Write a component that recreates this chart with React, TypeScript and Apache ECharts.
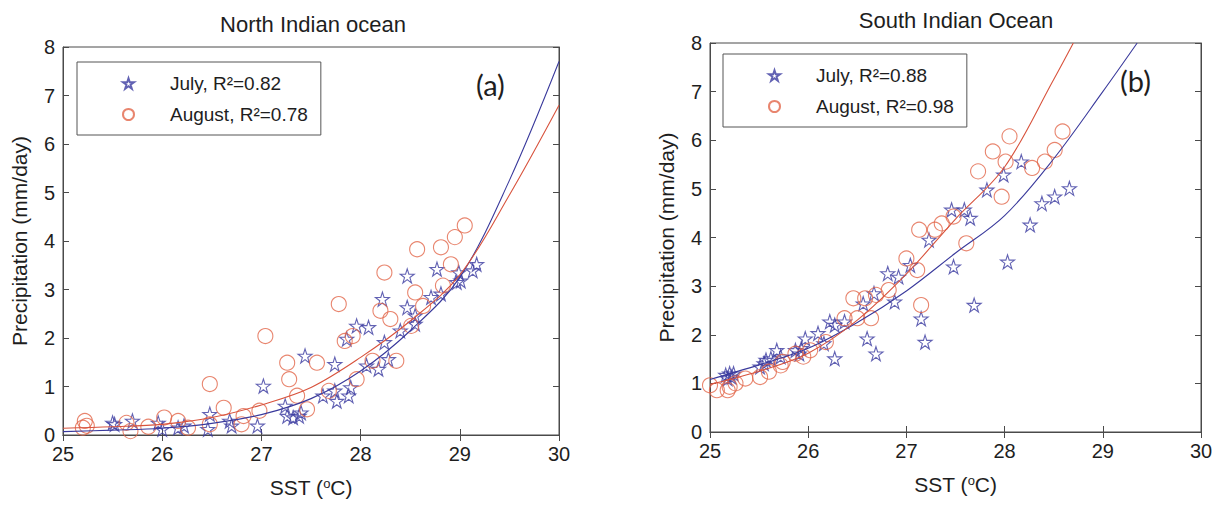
import React, { useEffect, useRef } from "react";
import * as echarts from "echarts";

// ---------- data ----------
const xTicks = [25, 26, 27, 28, 29, 30];
const yTicks = [0, 1, 2, 3, 4, 5, 6, 7, 8];

const northTitle = "North Indian ocean";
const southTitle = "South Indian Ocean";
const northJulyName = "July, R²=0.82";
const northAugName = "August, R²=0.78";
const southJulyName = "July, R²=0.88";
const southAugName = "August, R²=0.98";

// North Indian ocean, July  [SST, precipitation]
const northJuly = [
  [25.5, 0.25], [25.52, 0.22], [25.7, 0.29], [25.96, 0.25], [26.0, 0.12], [26.16, 0.15],
  [26.22, 0.19], [26.46, 0.12], [26.48, 0.43], [26.68, 0.29], [26.7, 0.19], [26.96, 0.19],
  [27.02, 1.01], [27.24, 0.6], [27.26, 0.39], [27.32, 0.36], [27.38, 0.39], [27.4, 0.46],
  [27.44, 1.63], [27.62, 0.81], [27.74, 1.46], [27.76, 0.7], [27.74, 0.91], [27.86, 1.98],
  [27.88, 0.81], [27.9, 0.98], [27.96, 2.25], [28.08, 2.22], [28.06, 1.43], [28.18, 1.36],
  [28.22, 2.8], [28.24, 1.91], [28.28, 1.56], [28.4, 2.15], [28.47, 3.28], [28.47, 2.63],
  [28.55, 2.29], [28.55, 2.46], [28.71, 2.84], [28.77, 3.42], [28.81, 2.91], [28.97, 3.15],
  [28.99, 3.35], [29.01, 3.18], [29.13, 3.39], [29.17, 3.52],
];
// North Indian ocean, August
const northAug = [
  [25.22, 0.29], [25.2, 0.15], [25.24, 0.19], [25.64, 0.25], [25.68, 0.08], [25.86, 0.17],
  [26.02, 0.36], [26.16, 0.29], [26.26, 0.15], [26.48, 1.05], [26.48, 0.22], [26.62, 0.56],
  [26.82, 0.39], [26.8, 0.22], [26.98, 0.5], [27.04, 2.04], [27.26, 1.49], [27.28, 1.15],
  [27.36, 0.81], [27.46, 0.53], [27.56, 1.49], [27.68, 0.91], [27.78, 2.7], [27.84, 1.94],
  [27.92, 2.04], [27.96, 1.15], [28.12, 1.53], [28.2, 2.56], [28.24, 3.35], [28.3, 2.39],
  [28.36, 1.53], [28.51, 2.25], [28.55, 2.94], [28.57, 3.83], [28.63, 2.66], [28.81, 3.87],
  [28.83, 3.08], [28.91, 3.52], [28.95, 4.08], [29.05, 4.32],
];
// South Indian Ocean, July
const southJuly = [
  [25.16, 1.17], [25.2, 1.2], [25.22, 1.13], [25.18, 1.1], [25.24, 1.2], [25.51, 1.34],
  [25.55, 1.41], [25.57, 1.48], [25.62, 1.51], [25.68, 1.68], [25.72, 1.55], [25.87, 1.68],
  [25.91, 1.61], [25.93, 1.72], [25.97, 1.92], [26.1, 2.03], [26.16, 1.82], [26.22, 2.27],
  [26.27, 2.2], [26.27, 1.51], [26.37, 2.27], [26.56, 2.64], [26.6, 1.92], [26.67, 2.85],
  [26.69, 1.61], [26.81, 3.26], [26.88, 2.68], [26.92, 3.19], [27.04, 3.43], [27.15, 2.33],
  [27.19, 1.85], [27.23, 3.95], [27.46, 4.57], [27.48, 3.4], [27.59, 4.57], [27.65, 4.4],
  [27.69, 2.61], [27.82, 4.98], [27.99, 5.29], [28.03, 3.5], [28.17, 5.56], [28.26, 4.26],
  [28.38, 4.7], [28.51, 4.84], [28.66, 5.01],
];
// South Indian Ocean, August
const southAug = [
  [25.0, 0.96], [25.07, 0.86], [25.18, 0.86], [25.2, 0.93], [25.26, 1.0], [25.36, 1.1],
  [25.51, 1.13], [25.6, 1.24], [25.72, 1.37], [25.74, 1.44], [25.87, 1.61], [25.95, 1.55],
  [26.02, 1.68], [26.18, 1.85], [26.37, 2.34], [26.46, 2.75], [26.5, 2.34], [26.58, 2.75],
  [26.64, 2.34], [26.69, 2.82], [26.82, 2.92], [27.0, 3.57], [27.11, 3.33], [27.15, 2.61],
  [27.13, 4.16], [27.29, 4.16], [27.36, 4.29], [27.48, 4.43], [27.61, 3.88], [27.73, 5.36],
  [27.88, 5.77], [27.97, 4.84], [28.01, 5.56], [28.05, 6.08], [28.28, 5.43], [28.41, 5.56],
  [28.51, 5.8], [28.59, 6.18],
];

// fitted curves
const northFitSst = [25, 25.5, 26, 26.5, 27, 27.5, 28, 28.5, 29, 29.5, 30];
const northJulyFit = [0.07, 0.1, 0.14, 0.24, 0.42, 0.75, 1.32, 2.15, 3.25, 5.25, 7.7];
const northAugFit = [0.14, 0.17, 0.22, 0.36, 0.62, 0.98, 1.6, 2.35, 3.3, 4.95, 6.8];
const southJulyFitSst = [25, 25.5, 26, 26.5, 27, 27.5, 28, 28.5, 29, 29.35];
const southJulyFit = [1.08, 1.38, 1.72, 2.25, 2.9, 3.68, 4.45, 5.62, 7.0, 8.0];
const southAugFitSst = [25, 25.5, 26, 26.5, 27, 27.5, 28, 28.5, 28.7];
const southAugFit = [0.98, 1.25, 1.62, 2.3, 3.25, 4.38, 5.45, 7.25, 8.0];

// ---------- styles ----------
const FONT = "Liberation Sans";
const BLUE_MARK = "#3b3ba0";
const RED_MARK = "#e2664a";
const BLUE_LINE = "#3a3a9c";
const RED_LINE = "#d8533d";
const FRAME = "#4a4a4a";
const TEXT = "#1e1e1e";
const STAR =
  "path://M10,0 L12.35,7.2 L19.9,7.2 L13.8,11.7 L16.1,19 L10,14.5 L3.9,19 L6.2,11.7 L0.1,7.2 L7.65,7.2 Z";

const zip = (xs: number[], ys: number[]) => xs.map((x, i) => [x, ys[i]]);

function makeAxes(gridIndex: number) {
  const common = {
    gridIndex,
    type: "value" as const,
    splitLine: { show: false },
    axisLine: { show: true, lineStyle: { color: FRAME, width: 1 } },
    axisTick: { show: true, inside: true, length: 6, lineStyle: { color: FRAME } },
  };
  const xMain = {
    ...common,
    min: xTicks[0],
    max: xTicks[xTicks.length - 1],
    interval: 1,
    position: "bottom",
    name: "{a|SST (}{s|o}{a|C)}",
    nameLocation: "middle",
    nameGap: 42,
    nameTextStyle: {
      rich: {
        a: { fontSize: 21, fontFamily: FONT, color: TEXT, verticalAlign: "bottom" },
        s: { fontSize: 13, fontFamily: FONT, color: TEXT, verticalAlign: "top" },
      },
    },
    axisLabel: { fontSize: 20, color: TEXT, margin: 9, fontFamily: FONT },
  };
  const xTop = {
    ...common,
    min: xTicks[0],
    max: xTicks[xTicks.length - 1],
    interval: 1,
    position: "top",
    axisLabel: { show: false },
  };
  const yMain = {
    ...common,
    min: yTicks[0],
    max: yTicks[yTicks.length - 1],
    interval: 1,
    position: "left",
    name: "Precipitation (mm/day)",
    nameLocation: "middle",
    nameGap: 33,
    nameTextStyle: { fontSize: 21, color: TEXT, fontFamily: FONT },
    axisLabel: { fontSize: 20, color: TEXT, margin: 8, fontFamily: FONT },
  };
  const yRight = {
    ...common,
    min: yTicks[0],
    max: yTicks[yTicks.length - 1],
    interval: 1,
    position: "right",
    axisLabel: { show: false },
  };
  return { x: [xMain, xTop], y: [yMain, yRight] };
}

function scatter(name: string, data: number[][], axisIdx: number, star: boolean) {
  return {
    name,
    type: "scatter",
    xAxisIndex: axisIdx,
    yAxisIndex: axisIdx,
    data,
    symbol: star ? STAR : "circle",
    symbolSize: star ? 14 : 15,
    itemStyle: {
      color: "rgba(255,255,255,0)",
      borderColor: star ? BLUE_MARK : RED_MARK,
      borderWidth: 1.1,
    },
    z: 3,
  };
}

function fitLine(data: number[][], axisIdx: number, color: string) {
  return {
    type: "line",
    xAxisIndex: axisIdx,
    yAxisIndex: axisIdx,
    data,
    smooth: 0.35,
    showSymbol: false,
    symbol: "none",
    lineStyle: { color, width: 1.1 },
    z: 4,
    silent: true,
  };
}

function legendFor(left: number, top: number, names: string[]) {
  return {
    left,
    top,
    orient: "vertical",
    data: names,
    borderColor: "#555",
    borderWidth: 1,
    borderRadius: 0,
    padding: [12, 13, 11, 45],
    itemGap: 12,
    itemWidth: 11,
    itemHeight: 11,
    formatter: (n: string) => "{g|}{t|" + n + "}",
    textStyle: {
      rich: {
        g: { width: 31 },
        t: { fontSize: 19, fontFamily: FONT, color: TEXT, lineHeight: 23 },
      },
    },
  };
}

export default function App() {
  const ref = useRef<HTMLDivElement>(null);
  useEffect(() => {
    document.body.style.margin = "0";
    const chart = echarts.init(ref.current!, undefined, { renderer: "svg" });
    const a0 = makeAxes(0);
    const a1 = makeAxes(1);
    chart.setOption({
      animation: false,
      backgroundColor: "#ffffff",
      textStyle: { fontFamily: FONT },
      title: [
        {
          text: northTitle,
          left: 308,
          top: 8,
          textAlign: "center",
          textStyle: { fontSize: 22, fontWeight: "normal", color: TEXT, fontFamily: FONT },
        },
        {
          text: southTitle,
          left: 951,
          top: 4,
          textAlign: "center",
          textStyle: { fontSize: 22, fontWeight: "normal", color: TEXT, fontFamily: FONT },
        },
      ],
      grid: [
        { left: 63, top: 47, width: 496, height: 388, show: true, borderColor: FRAME, borderWidth: 1, containLabel: false },
        { left: 710, top: 43, width: 491, height: 389, show: true, borderColor: FRAME, borderWidth: 1, containLabel: false },
      ],
      xAxis: [a0.x[0], a0.x[1], a1.x[0], a1.x[1]],
      yAxis: [a0.y[0], a0.y[1], a1.y[0], a1.y[1]],
      legend: [
        legendFor(77, 62, [northJulyName, northAugName]),
        legendFor(723, 54, [southJulyName, southAugName]),
      ],
      series: [
        scatter(northJulyName, northJuly, 0, true),
        scatter(northAugName, northAug, 0, false),
        fitLine(zip(northFitSst, northJulyFit), 0, BLUE_LINE),
        fitLine(zip(northFitSst, northAugFit), 0, RED_LINE),
        scatter(southJulyName, southJuly, 2, true),
        scatter(southAugName, southAug, 2, false),
        fitLine(zip(southJulyFitSst, southJulyFit), 2, BLUE_LINE),
        fitLine(zip(southAugFitSst, southAugFit), 2, RED_LINE),
      ],
      graphic: [
        {
          type: "text",
          left: 476,
          top: 70,
          style: { text: "(a)", fontSize: 29, fontFamily: "Lato", fill: TEXT },
        },
        {
          type: "text",
          left: 1120,
          top: 66,
          style: { text: "(b)", fontSize: 29, fontFamily: "Lato", fill: TEXT },
        },
      ],
    });
    return () => chart.dispose();
  }, []);
  return (
    <div
      ref={ref}
      style={{ position: "fixed", left: 0, top: 0, width: 1217, height: 506, background: "#fff" }}
    />
  );
}
